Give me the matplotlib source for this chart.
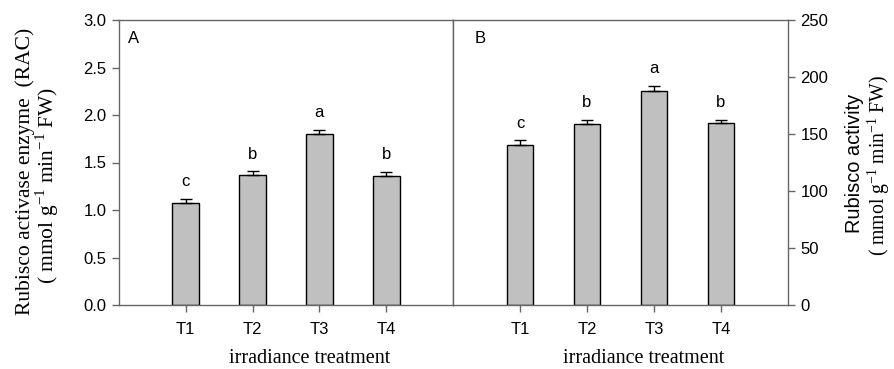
import matplotlib.pyplot as plt

treatments = ['T1', 'T2', 'T3', 'T4']
rac = [1.07, 1.37, 1.80, 1.36]
rac_err = [0.05, 0.04, 0.045, 0.045]
rac_letters = ['c', 'b', 'a', 'b']
activity = [140.5, 158.5, 188.0, 159.5]
activity_err = [4, 4, 4.5, 3]
activity_letters = ['c', 'b', 'a', 'b']

sans = 'Liberation Sans'
serif = 'Liberation Serif'
spine_col = '#666666'
bar_col = '#c0c0c0'

fig = plt.figure(figsize=(8.94, 3.69), dpi=100)
ax1 = fig.add_axes([119 / 894, 64 / 369, 334 / 894, 285 / 369])
ax2 = fig.add_axes([453 / 894, 64 / 369, 335 / 894, 285 / 369])

x = [1, 2, 3, 4]


def panel(ax, vals, errs, letters, ylim, yticks, fmt, tag, tagx):
    ax.bar(x, vals, width=0.4, color=bar_col, edgecolor='black', linewidth=1, zorder=2)
    ax.errorbar(x, vals, yerr=[[0] * 4, errs], fmt='none', ecolor='black',
                elinewidth=1, capsize=4, capthick=1, zorder=3)
    for xi, v, e, l in zip(x, vals, errs, letters):
        ax.annotate(l, (xi, v + e), xytext=(0, 9), textcoords='offset points',
                    ha='center', va='baseline', fontsize=12, family=sans)
    ax.set_xlim(0, 5)
    ax.set_ylim(*ylim)
    ax.set_yticks(yticks)
    ax.set_yticklabels([fmt.format(t) for t in yticks], family=sans, fontsize=12)
    ax.set_xticks(x)
    ax.set_xticklabels(treatments, family=sans, fontsize=12)
    for s in ax.spines.values():
        s.set_color(spine_col)
        s.set_linewidth(1)
    ax.tick_params(direction='out', length=5, color=spine_col, width=1, pad=4)
    ax.tick_params(axis='x', pad=7)
    ax.set_xlabel('irradiance treatment', family=serif, fontsize=14.5, labelpad=5)
    ax.xaxis.set_label_coords(0.57, -0.155)
    ax.text(tagx, 0.935, tag, transform=ax.transAxes, family=sans, fontsize=12,
            ha='center', va='center')


panel(ax1, rac, rac_err, rac_letters, (0, 3.0),
      [0, 0.5, 1.0, 1.5, 2.0, 2.5, 3.0], '{:.1f}', 'A', 0.045)
panel(ax2, activity, activity_err, activity_letters, (0, 250),
      [0, 50, 100, 150, 200, 250], '{:.0f}', 'B', 0.08)

ax2.yaxis.tick_right()
ax2.tick_params(axis='y', left=False, right=True)

# y labels
fig.text(25 / 894, 1 - 171 / 369, 'Rubisco activase enzyme  (RAC)', rotation=90,
         ha='center', va='center', family=serif, fontsize=15.5)
fig.text(47 / 894, 1 - 185 / 369, '( mmol g$^{\\mathregular{-1}}$ min$^{\\mathregular{-1}}$ FW)',
         rotation=90, ha='center', va='center', family=serif, fontsize=15.5)
fig.text(854 / 894, 1 - 163 / 369, 'Rubisco activity', rotation=90,
         ha='center', va='center', family=sans, fontsize=14.4)
fig.text(879 / 894, 1 - 165 / 369, '( mmol g$^{\\mathregular{-1}}$ min$^{\\mathregular{-1}}$ FW)',
         rotation=90, ha='center', va='center', family=serif, fontsize=14.2)

fig.savefig('out.png', dpi=100)
